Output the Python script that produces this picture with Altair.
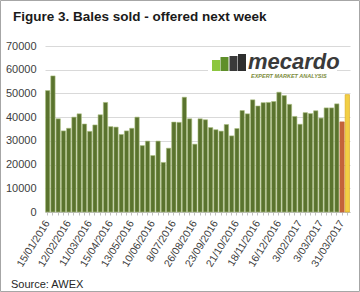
import altair as alt
import pandas as pd

# ---- data ----
dates = [
    "15/01/2016", "22/01/2016", "29/01/2016", "5/02/2016",
    "12/02/2016", "19/02/2016", "26/02/2016", "4/03/2016",
    "11/03/2016", "18/03/2016", "1/04/2016", "8/04/2016",
    "15/04/2016", "22/04/2016", "29/04/2016", "6/05/2016",
    "13/05/2016", "20/05/2016", "27/05/2016", "3/06/2016",
    "10/06/2016", "17/06/2016", "24/06/2016", "1/07/2016",
    "8/07/2016", "5/08/2016", "12/08/2016", "19/08/2016",
    "26/08/2016", "2/09/2016", "9/09/2016", "16/09/2016",
    "23/09/2016", "30/09/2016", "7/10/2016", "14/10/2016",
    "21/10/2016", "28/10/2016", "4/11/2016", "11/11/2016",
    "18/11/2016", "25/11/2016", "2/12/2016", "9/12/2016",
    "16/12/2016", "13/01/2017", "20/01/2017", "27/01/2017",
    "3/02/2017", "10/02/2017", "17/02/2017", "24/02/2017",
    "3/03/2017", "10/03/2017", "17/03/2017", "24/03/2017",
    "31/03/2017", "7/04/2017",
]
bales = [
    51200, 57400, 39300, 34200, 35300, 40000, 41400, 37100,
    34000, 36700, 41000, 46200, 36000, 35800, 32700, 34200,
    35300, 40000, 28000, 29900, 23800, 29900, 20900, 26900,
    37900, 37800, 48400, 39300, 28600, 39300, 38900, 35600,
    34700, 34100, 36900, 32100, 35200, 42800, 41400, 47300,
    44700, 46100, 46200, 46600, 50500, 49100, 45400, 40300,
    37000, 41900, 41500, 42700, 39600, 43900, 43900, 45600,
    38000, 49500,
]
kinds = ["Bales sold"] * 56 + ["Latest week", "Offered next week"]
kind_domain = ["Bales sold", "Latest week", "Offered next week"]
kind_fill = ["#5a732e", "#c4633a", "#f2cf45"]
kind_stroke = ["#a9bd7e", "#c4633a", "#d6a312"]

title_text = "Figure 3. Bales sold - offered next week"
source_text = "Source: AWEX"
y_ticks = [0, 10000, 20000, 30000, 40000, 50000, 60000, 70000]

df = pd.DataFrame({"date": dates, "bales": bales, "kind": kinds})
one = pd.DataFrame({"a": [0]})

FONT = "Liberation Sans"
n = len(dates)

bars = alt.Chart(df).mark_bar(strokeWidth=0.6).encode(
    x=alt.X(
        "date:N", sort=dates, title=None,
        scale=alt.Scale(paddingInner=0.18, paddingOuter=0.1),
        axis=alt.Axis(
            labelAngle=-58, labelAlign="right", labelBaseline="middle",
            labelFontSize=10.5, labelColor="#404040", labelFont=FONT,
            labelExpr=f"round(datum.index*{n-1}) % 4 === 0 ? datum.label : ''",
            labelOverlap=False, labelPadding=6,
            ticks=True, tickSize=3, tickColor="#bfbfbf",
            domainColor="#bfbfbf", grid=False,
        ),
    ),
    y=alt.Y(
        "bales:Q", title=None,
        scale=alt.Scale(domain=[0, 70000], nice=False),
        axis=alt.Axis(
            values=y_ticks, format="d", ticks=False, domain=False,
            labelFontSize=11, labelColor="#404040", labelFont=FONT,
            labelPadding=9, gridColor="#d9d9d9",
        ),
    ),
    color=alt.Color("kind:N", scale=alt.Scale(domain=kind_domain, range=kind_fill), legend=None),
    stroke=alt.Stroke("kind:N", scale=alt.Scale(domain=kind_domain, range=kind_stroke), legend=None),
)

# outer frame
frame = alt.Chart(one).mark_rect(fill=None, stroke="#a6a6a6", strokeWidth=1).encode(
    x=alt.value(-44.5), x2=alt.value(314.5), y=alt.value(-45.5), y2=alt.value(245.5)
)

# logo
logo_bg = alt.Chart(one).mark_rect(fill="white").encode(
    x=alt.value(163), x2=alt.value(292), y=alt.value(5), y2=alt.value(35)
)
icon_specs = [
    (167, 175, 14, "#8cc63f"),
    (175.5, 183.5, 11, "#5f8f2a"),
    (184.5, 192.5, 10, "#3a3a3a"),
    (193, 201, 8, "#2e2e2e"),
]
icon_layers = [
    alt.Chart(one).mark_rect(fill=c).encode(
        x=alt.value(x0), x2=alt.value(x1), y=alt.value(y0), y2=alt.value(25)
    )
    for x0, x1, y0, c in icon_specs
]
logo_word = alt.Chart(one).mark_text(
    text="mecardo", font=FONT, fontSize=22, fontStyle="italic", fontWeight="bold",
    color="#3a3a3a", align="left", baseline="alphabetic",
).encode(x=alt.value(203), y=alt.value(23))
logo_tag = alt.Chart(one).mark_text(
    text="EXPERT MARKET ANALYSIS", font=FONT, fontSize=5.5, fontStyle="italic",
    fontWeight="bold", color="#7d8c3c", align="left", baseline="top",
).encode(x=alt.value(206), y=alt.value(28))

title = alt.Chart(one).mark_text(
    text=title_text, font=FONT, fontSize=13.5, fontWeight="bold", color="#1a1a1a",
    align="left", baseline="alphabetic",
).encode(x=alt.value(-32), y=alt.value(-25))

source = alt.Chart(one).mark_text(
    text=source_text, font=FONT, fontSize=11, color="#262626",
    align="left", baseline="alphabetic",
).encode(x=alt.value(-34), y=alt.value(242))

chart = alt.layer(
    bars, logo_bg, *icon_layers, logo_word, logo_tag, title, source, frame
).properties(
    width=305, height=166,
    autosize=alt.AutoSizeParams(type="none"),
    padding={"left": 45, "top": 46, "right": 10, "bottom": 80},
    background="white",
).configure_view(stroke=None)

chart.save("out.html", embed_options={"renderer": "svg", "actions": False})
